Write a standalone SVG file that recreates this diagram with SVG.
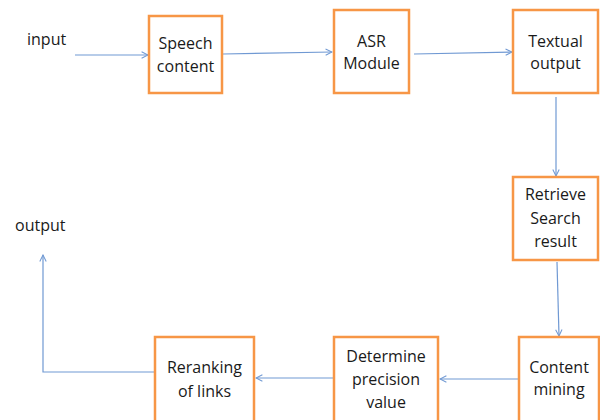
<svg xmlns="http://www.w3.org/2000/svg" width="600" height="420" viewBox="0 0 600 420">
  <style>
    .box { fill: #ffffff; stroke: #F79646; stroke-width: 2.5; }
    .lbl { font-family: "Open Sans", "Liberation Sans", sans-serif; font-size: 16px; fill: #1a1a1a; text-anchor: middle; }
    .free { font-family: "Open Sans", "Liberation Sans", sans-serif; font-size: 16px; fill: #1a1a1a; }
    .link { fill: none; stroke: #7099D3; stroke-width: 1.2; marker-end: url(#head); }
  </style>
  <defs>
    <marker id="head" viewBox="0 0 10 10" refX="9" refY="5" markerWidth="8" markerHeight="8" markerUnits="userSpaceOnUse" orient="auto">
      <path d="M1,1 L9,5 L1,9" fill="none" stroke="#7099D3" stroke-width="1.3"/>
    </marker>
  </defs>
  <rect width="600" height="420" fill="#ffffff"/>

  <text class="free" x="27" y="45">input</text>
  <text class="free" x="15" y="231">output</text>

  <g id="connectors">
    <line class="link" x1="75" y1="55" x2="148" y2="55"/>
    <line class="link" x1="223" y1="54" x2="332" y2="52"/>
    <line class="link" x1="414" y1="54" x2="512" y2="52"/>
    <line class="link" x1="556" y1="97" x2="556" y2="176"/>
    <line class="link" x1="557" y1="262" x2="559" y2="336"/>
    <line class="link" x1="519" y1="379" x2="440" y2="379"/>
    <line class="link" x1="333" y1="378" x2="256" y2="378"/>
    <polyline class="link" points="154,372 43,372 43,255"/>
  </g>

  <g id="speech-content">
    <rect class="box" x="149" y="16" width="73" height="77"/>
    <text class="lbl" x="185.5" y="49">Speech</text>
    <text class="lbl" x="185.5" y="72">content</text>
  </g>
  <g id="asr-module">
    <rect class="box" x="334" y="10" width="75" height="83"/>
    <text class="lbl" x="371.5" y="47">ASR</text>
    <text class="lbl" x="371.5" y="69">Module</text>
  </g>
  <g id="textual-output">
    <rect class="box" x="513" y="10" width="85" height="83"/>
    <text class="lbl" x="555.5" y="47">Textual</text>
    <text class="lbl" x="555.5" y="69">output</text>
  </g>
  <g id="retrieve-search-result">
    <rect class="box" x="513" y="177" width="85" height="83"/>
    <text class="lbl" x="555.5" y="200">Retrieve</text>
    <text class="lbl" x="555.5" y="224">Search</text>
    <text class="lbl" x="555.5" y="247">result</text>
  </g>
  <g id="content-mining">
    <rect class="box" x="519" y="337" width="80" height="90"/>
    <text class="lbl" x="559" y="373">Content</text>
    <text class="lbl" x="559" y="395">mining</text>
  </g>
  <g id="determine-precision-value">
    <rect class="box" x="334" y="337" width="104" height="90"/>
    <text class="lbl" x="386" y="362">Determine</text>
    <text class="lbl" x="386" y="385">precision</text>
    <text class="lbl" x="386" y="408">value</text>
  </g>
  <g id="reranking-of-links">
    <rect class="box" x="155" y="337" width="99" height="90"/>
    <text class="lbl" x="204.5" y="373">Reranking</text>
    <text class="lbl" x="204.5" y="397">of links</text>
  </g>
</svg>
